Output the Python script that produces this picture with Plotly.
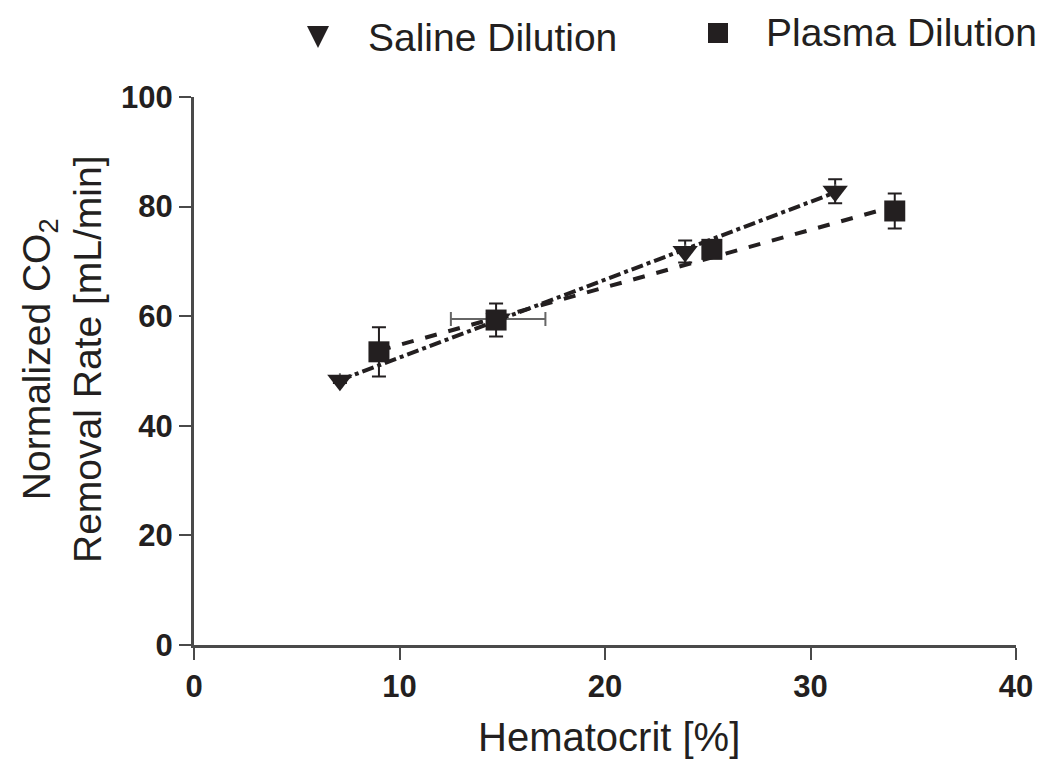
import numpy as np
import plotly.graph_objects as go

# Data
saline_x = [7.1, 14.8, 23.9, 31.2]
saline_y = [48.3, 59.5, 71.8, 82.8]
saline_yerr = [0.5, 1.0, 2.0, 2.2]
saline_xerr = [0.0, 2.3, 0.0, 0.0]

plasma_x = [9.0, 14.7, 25.2, 34.1]
plasma_y = [53.5, 59.3, 72.2, 79.2]
plasma_yerr = [4.5, 3.0, 0.8, 3.2]

x_ticks = [0, 10, 20, 30, 40]
y_ticks = [0, 20, 40, 60, 80, 100]

series_names = ["Saline Dilution", "Plasma Dilution"]

INK = "#231f20"
AX = "#4a4a4a"
FONT = "Liberation Sans, Arial, sans-serif"

# page offset introduced by the default body margin
OFF = 8
W, H = 1034, 754
PW, PH = 822, 548
L, T = 194 - OFF, 97 - OFF
R, B = W - L - PW, H - T - PH


def px2paper(page_x, page_y):
    fx, fy = page_x - OFF, page_y - OFF
    return (fx - L) / PW, (T + PH - fy) / PH


fig = go.Figure()


def fit_line(xs, ys):
    m, b = np.polyfit(xs, ys, 1)
    xx = np.array([min(xs), max(xs)])
    return xx, m * xx + b


sx, sy = fit_line(saline_x, saline_y)
px_, py_ = fit_line(plasma_x, plasma_y)

fig.add_trace(go.Scatter(x=sx, y=sy, mode="lines", showlegend=False,
                         line=dict(color=INK, width=4, dash="dashdot")))
fig.add_trace(go.Scatter(x=px_, y=py_, mode="lines", showlegend=False,
                         line=dict(color=INK, width=4, dash="dash")))

fig.add_trace(go.Scatter(
    x=saline_x, y=saline_y, mode="markers", name=series_names[0], showlegend=False,
    marker=dict(symbol="triangle-down", size=22, color=INK),
    error_y=dict(type="data", array=saline_yerr, color=INK, thickness=2, width=7),
    error_x=dict(type="data", array=saline_xerr, color="#666666", thickness=2, width=7),
))
fig.add_trace(go.Scatter(
    x=plasma_x, y=plasma_y, mode="markers", name=series_names[1], showlegend=False,
    marker=dict(symbol="square", size=21, color=INK),
    error_y=dict(type="data", array=plasma_yerr, color=INK, thickness=2, width=7),
))

# Manual legend (shapes + text)
shapes = []
annotations = []
tx, ty = px2paper(318, 37)
shapes.append(dict(type="path", xref="paper", yref="paper",
                   xsizemode="pixel", ysizemode="pixel", xanchor=tx, yanchor=ty,
                   path="M -11 11 L 11 11 L 0 -11 Z", fillcolor=INK, line=dict(width=0)))
sqx, sqy = px2paper(718, 33)
shapes.append(dict(type="rect", xref="paper", yref="paper",
                   xsizemode="pixel", ysizemode="pixel", xanchor=sqx, yanchor=sqy,
                   x0=-10, x1=10, y0=-10, y1=10, fillcolor=INK, line=dict(width=0)))
for (lx, ly), name in zip([(366, 37), (764, 33)], series_names):
    ax_, ay_ = px2paper(lx, ly)
    annotations.append(dict(text=name, xref="paper", yref="paper", x=ax_, y=ay_,
                            xanchor="left", yanchor="middle", showarrow=False,
                            font=dict(size=39, family=FONT, color=INK)))

hx, hy = px2paper(609, 737)
annotations.append(dict(text="Hematocrit [%]", xref="paper", yref="paper", x=hx, y=hy,
                        xanchor="center", yanchor="middle", showarrow=False,
                        font=dict(size=40, family=FONT, color=INK)))
vx, vy = px2paper(62, 360)
annotations.append(dict(text="Normalized CO<sub>2</sub><br>Removal Rate [mL/min]",
                        xref="paper", yref="paper", x=vx, y=vy, textangle=-90,
                        xanchor="center", yanchor="middle", showarrow=False,
                        font=dict(size=39, family=FONT, color=INK)))

fig.update_layout(
    width=W, height=H,
    margin=dict(l=L, r=R, t=T, b=B, autoexpand=False),
    paper_bgcolor="white", plot_bgcolor="white",
    font=dict(family=FONT, color=INK),
    showlegend=False,
    shapes=shapes,
    annotations=annotations,
    xaxis=dict(range=[0, 40], tickvals=x_ticks, showgrid=False, zeroline=False,
               automargin=False,
               showline=True, linecolor=AX, linewidth=3, ticks="outside",
               ticklen=12, tickwidth=2, tickcolor=AX,
               tickfont=dict(size=31, family=FONT, weight="bold", color=INK)),
    yaxis=dict(range=[0, 100], tickvals=y_ticks, showgrid=False, zeroline=False,
               automargin=False,
               showline=True, linecolor=AX, linewidth=3, ticks="outside",
               ticklen=12, tickwidth=2, tickcolor=AX,
               tickfont=dict(size=31, family=FONT, weight="bold", color=INK)),
)

fig.write_html("out.html")
